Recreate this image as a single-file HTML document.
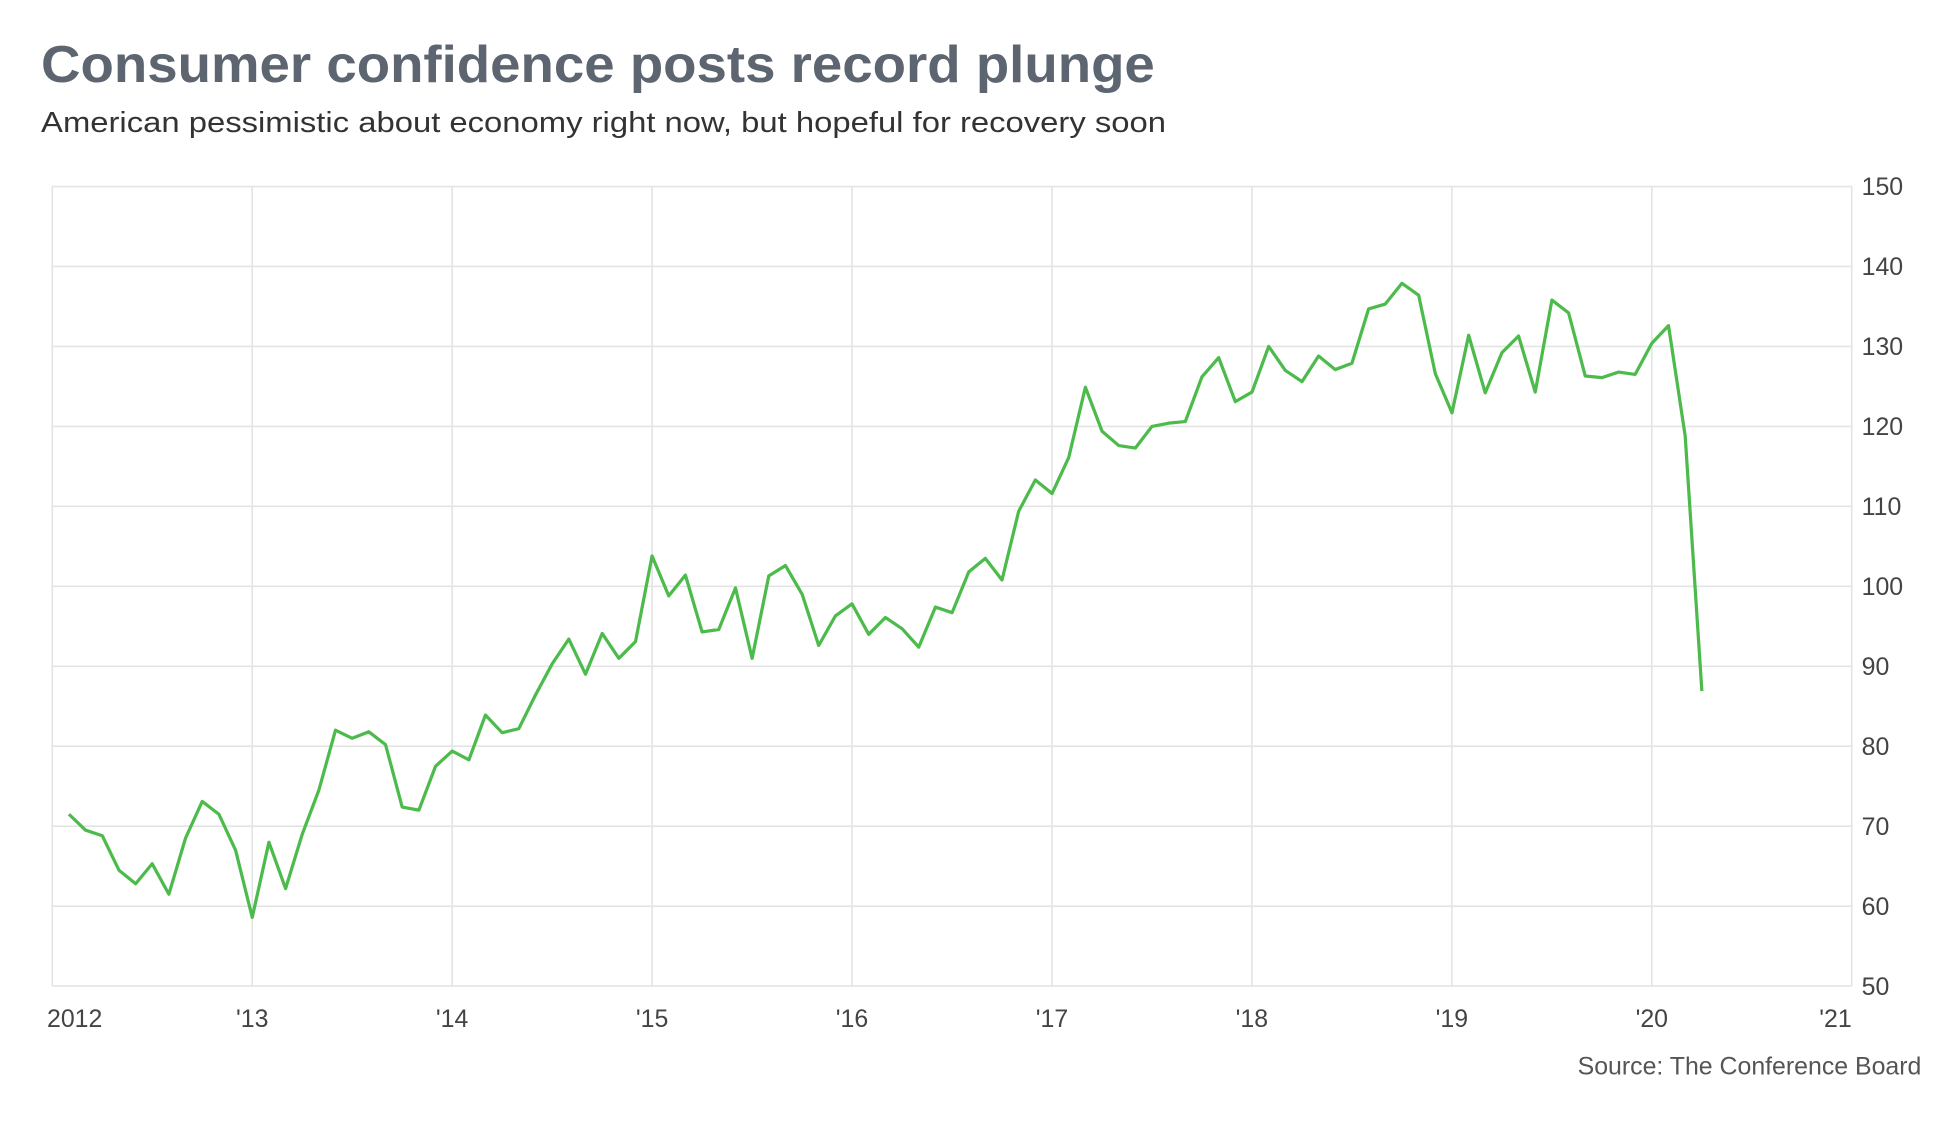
<!DOCTYPE html>
<html><head><meta charset="utf-8"><style>
html,body{margin:0;padding:0;background:#fff;}
svg{display:block;}
</style></head><body>
<svg width="1950" height="1126" viewBox="0 0 1567 905.5" preserveAspectRatio="none" xmlns="http://www.w3.org/2000/svg" font-family="'Liberation Sans', sans-serif">
<text x="33" y="66" font-size="42" font-weight="bold" fill="#5d6571" textLength="895" lengthAdjust="spacingAndGlyphs">Consumer confidence posts record plunge</text>
<text x="33" y="106" font-size="23" fill="#333" textLength="904" lengthAdjust="spacingAndGlyphs">American pessimistic about economy right now, but hopeful for recovery soon</text>
<g stroke="#e4e4e4" stroke-width="1.3" fill="none" id="grid"></g>
<g font-size="20" fill="#444" id="labels"></g>
<polyline id="line" fill="none" stroke="#4cbb4c" stroke-width="2.6" stroke-linejoin="round"/>
<text x="1544" y="864" font-size="20" fill="#555" text-anchor="end">Source: The Conference Board</text>
<script>
var ns="http://www.w3.org/2000/svg";
var g=document.getElementById('grid'),L=document.getElementById('labels');
function el(p,t,a){var e=document.createElementNS(ns,t);for(var k in a)e.setAttribute(k,a[k]);p.appendChild(e);return e;}
var x0=42,dx=160.67,y150=150,dy=6.43;
for(var v=50;v<=150;v+=10){var y=y150+(150-v)*dy;el(g,'line',{x1:42,x2:1488,y1:y,y2:y});var t=el(L,'text',{x:1496,y:y+7});t.textContent=v;}
var xl=['2012',"'13","'14","'15","'16","'17","'18","'19","'20","'21"];
for(var i=0;i<10;i++){var x=x0+dx*i;el(g,'line',{x1:x,x2:x,y1:150,y2:793});var t=el(L,'text',{x:(i==9?1488:(i==0?60:x)),y:826,'text-anchor':(i==9?'end':'middle')});t.textContent=xl[i];}
var d=[71.5,69.5,68.8,64.5,62.8,65.3,61.5,68.5,73.1,71.5,67,58.6,68,62.2,69,74.5,82,81,81.8,80.2,72.4,72,77.5,79.4,78.3,83.9,81.7,82.2,86.4,90.3,93.4,89,94.1,91,93.1,103.8,98.8,101.4,94.3,94.6,99.8,91,101.3,102.6,99,92.6,96.3,97.8,94,96.1,94.7,92.4,97.4,96.7,101.8,103.5,100.8,109.4,113.3,111.6,116.1,124.9,119.4,117.6,117.3,120,120.4,120.6,126.2,128.6,123.1,124.3,130,127,125.6,128.8,127.1,127.9,134.7,135.3,137.9,136.4,126.6,121.7,131.4,124.2,129.2,131.3,124.3,135.8,134.2,126.3,126.1,126.8,126.5,130.4,132.6,118.8,86.9];
var pts=d.map(function(v,i){return (42+13.39*(i+1)).toFixed(1)+','+(y150+(150-v)*dy).toFixed(1);}).join(' ');
document.getElementById('line').setAttribute('points',pts);
</script>
</svg>
</body></html>
